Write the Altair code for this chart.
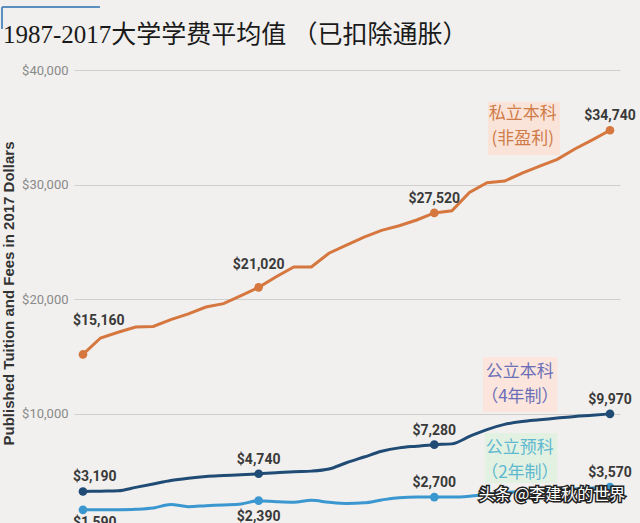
import altair as alt
import pandas as pd

# ---------------- data ----------------
years = list(range(1987, 2018))
series_names = ["私立本科（非盈利）", "公立本科（4年制）", "公立预科（2年制）"]
private_4yr = [15160, 16600, 17100, 17550, 17600, 18200, 18700, 19300, 19600, 20300, 21020,
               21950, 22800, 22800, 24000, 24700, 25400, 26000, 26400, 26900, 27520,
               27700, 29300, 30150, 30300, 31000, 31600, 32200, 33100, 33900, 34740]
public_4yr = [3190, 3220, 3250, 3550, 3850, 4150, 4350, 4500, 4580, 4650, 4740,
              4820, 4920, 4970, 5150, 5700, 6200, 6700, 7000, 7150, 7280,
              7350, 8000, 8600, 9050, 9300, 9450, 9600, 9750, 9850, 9970]
public_2yr = [1590, 1590, 1600, 1640, 1750, 2050, 1870, 1950, 2020, 2100, 2390,
              2300, 2250, 2420, 2250, 2150, 2200, 2450, 2650, 2700, 2700,
              2700, 2780, 2950, 3100, 3200, 3280, 3350, 3420, 3500, 3570]
key_years = [1987, 1997, 2007, 2017]
y_ticks = [10000, 20000, 30000, 40000]
line_colors = ["#d5773f", "#1f4b75", "#3b97d0"]
chart_title = "1987-2017大学学费平均值 （已扣除通胀）"
y_title = "Published Tuition and Fees in 2017 Dollars"

# annotation boxes (text lines, anchor year / value)
box_names = series_names
box_x0 = [2010.05, 2009.77, 2009.88]
box_x1 = [2014.15, 2014.0, 2014.0]
box_y0 = [37200, 14930, 8300]
box_y1 = [32580, 10130, 3930]
box_fill = ["#fbe2d5", "#fde3d8", "#dff1df"]
note_lines = [["私立本科", "(非盈利)"], ["公立本科", "（4年制）"], ["公立预科", "（2年制）"]]
note_x = [2012.04, 2011.87, 2011.87]
note_y = [[36160, 33970], [13620, 11440], [7030, 4850]]
note_colors = ["#cf7b48", "#6a6fb8", "#5fb8cf"]
watermark = "头条 @李建秋的世界"
watermark_pos = (2013.7, 2850)

# ---------------- frames ----------------
rows = []
for name, vals in zip(series_names, [private_4yr, public_4yr, public_2yr]):
    for yr, v in zip(years, vals):
        rows.append({"series": name, "year": yr, "value": v})
df = pd.DataFrame(rows)
key_df = df[df["year"].isin(key_years)].copy()

boxes = pd.DataFrame({"series": box_names, "x0": box_x0, "x1": box_x1,
                      "y0": box_y0, "y1": box_y1, "fill": box_fill})
notes = []
for i, name in enumerate(box_names):
    for line, yv in zip(note_lines[i], note_y[i]):
        notes.append({"series": name, "text": line, "x": note_x[i], "y": yv, "c": note_colors[i]})
notes = pd.DataFrame(notes)
wm = pd.DataFrame({"text": [watermark], "x": [watermark_pos[0]], "y": [watermark_pos[1]]})

# ---------------- encodings ----------------
FONT = "Roboto"
xs = alt.Scale(domain=[1986.49, 2017.57], nice=False, zero=False)
ys = alt.Scale(domain=[440, 40000], nice=False, zero=False)
color = alt.Color("series:N", scale=alt.Scale(domain=series_names, range=line_colors), legend=None)

y_axis = alt.Axis(
    values=y_ticks, format="$,.0f", grid=True, domain=False, ticks=False,
    labelPadding=6, labelColor="#8a8a8a", labelFontSize=13, labelFont=FONT,
    gridColor="#cfcfcf", gridWidth=1,
    title=y_title, titleFont="Liberation Sans",
    titleFontSize=15, titleFontWeight="bold", titleColor="#333333",
    titleAngle=-90, titleX=-58, titleY=223, titleAlign="center", titleBaseline="bottom")


def X(f):
    return alt.X(f, scale=xs, axis=None)


def Y(f):
    return alt.Y(f, scale=ys, axis=y_axis, title=y_title)


lines_priv = alt.Chart(df).transform_filter(f"datum.series == '{series_names[0]}'").mark_line(
    strokeWidth=3).encode(x=X("year:Q"), y=Y("value:Q"), color=color)
lines_pub = alt.Chart(df).transform_filter(f"datum.series != '{series_names[0]}'").mark_line(
    strokeWidth=3, interpolate="monotone").encode(x=X("year:Q"), y=Y("value:Q"), color=color)

rects = alt.Chart(boxes).mark_rect().encode(
    x=X("x0:Q"), x2="x1:Q", y=Y("y0:Q"), y2="y1:Q",
    fill=alt.Fill("fill:N", scale=None), opacity=alt.value(0.85))

note_text = alt.Chart(notes).mark_text(font="Noto Sans CJK SC", fontSize=17, baseline="middle").encode(
    x=X("x:Q"), y=Y("y:Q"), text="text:N", color=alt.Color("c:N", scale=None))

points = alt.Chart(key_df).mark_circle(size=75, opacity=1).encode(x=X("year:Q"), y=Y("value:Q"), color=color)

lab_base = alt.Chart(key_df).encode(
    x=X("year:Q"), y=Y("value:Q"), text=alt.Text("value:Q", format="$,.0f"))
lab_style = dict(font=FONT, fontSize=14, fontWeight="bold", color="#3a3a3a", baseline="middle")

p, a, b = series_names
std = lab_base.transform_filter(
    f"(datum.year >= 2007) || (datum.year == 1997 && datum.series == '{a}')"
).mark_text(dy=-14, **lab_style)
priv97 = lab_base.transform_filter(f"datum.year == 1997 && datum.series == '{p}'").mark_text(dy=-22, **lab_style)
priv87 = lab_base.transform_filter(f"datum.year == 1987 && datum.series == '{p}'").mark_text(dy=-33, dx=-10, align="left", **lab_style)
pub87 = lab_base.transform_filter(f"datum.year == 1987 && datum.series == '{a}'").mark_text(dy=-15, dx=-10, align="left", **lab_style)
two87 = lab_base.transform_filter(f"datum.year == 1987 && datum.series == '{b}'").mark_text(dy=13, dx=-10, align="left", **lab_style)
two97 = lab_base.transform_filter(f"datum.year == 1997 && datum.series == '{b}'").mark_text(dy=16, **lab_style)

wm_enc = dict(x=X("x:Q"), y=Y("y:Q"), text="text:N")
wm_back = alt.Chart(wm).mark_text(font="Noto Sans CJK SC", fontSize=16, fill="#222222",
                                  stroke="#222222", strokeWidth=3, baseline="middle").encode(**wm_enc)
wm_front = alt.Chart(wm).mark_text(font="Noto Sans CJK SC", fontSize=16, fill="#ffffff",
                                   baseline="middle").encode(**wm_enc)

one = pd.DataFrame({"k": [0]})
title_mark = alt.Chart(one).mark_text(
    font="Liberation Serif, Noto Sans CJK SC", fontSize=25, color="#1a1a1a",
    align="left", baseline="alphabetic").encode(
    x=alt.value(-71), y=alt.value(-27), text=alt.value(chart_title))
deco = alt.Chart(one).mark_rule(color="#5b8fc0", strokeWidth=2).encode(
    x=alt.value(-72), x2=alt.value(26), y=alt.value(-63))
deco2 = alt.Chart(one).mark_rule(color="#5b8fc0", strokeWidth=2).encode(
    x=alt.value(-72), y=alt.value(-63), y2=alt.value(-41))

chart = alt.layer(
    lines_priv, rects, lines_pub, points, note_text, std, priv97, priv87, pub87, two87, two97,
    wm_back, wm_front, title_mark, deco, deco2
).properties(
    width=546, height=453,
    autosize=alt.AutoSizeParams(type="none"),
    padding={"left": 74, "top": 70, "right": 20, "bottom": 0},
    background="#f1f0ee",
).configure_view(stroke=None)

chart.save("out.html", embed_options={"renderer": "svg", "actions": False})
